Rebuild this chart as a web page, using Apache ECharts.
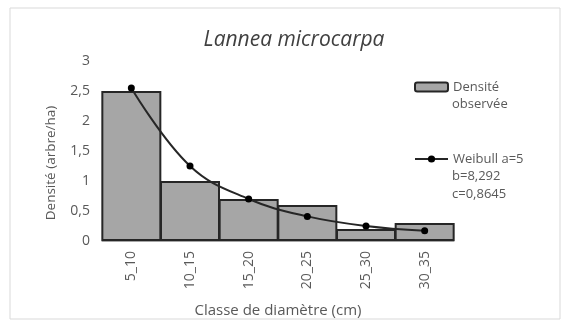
<!DOCTYPE html>
<html>
<head>
<meta charset="utf-8">
<script src="https://cdn.jsdelivr.net/npm/echarts@6/dist/echarts.min.js"></script>
<style>
html,body{margin:0;padding:0;background:#fff;}
#ech1{width:567px;height:322px;}
</style>
</head>
<body>
<div id="ech1"></div>
<script>
// 数据
var classes = ['5_10', '10_15', '15_20', '20_25', '25_30', '30_35'];
var densiteObservee = [2.5, 1.0, 0.7, 0.6, 0.2, 0.3];
var weibull = [2.55, 1.25, 0.7, 0.41, 0.25, 0.17];
var yTicks = [0, 0.5, 1, 1.5, 2, 2.5, 3];

var myChart1 = echarts.init(document.getElementById('ech1'), null, { renderer: 'canvas' });
var fontFam = '"Open Sans", "Liberation Sans", sans-serif';
var txtColor = '#595959';
var nomBarre = 'Densité observée', nomLigne = 'Weibull a=5 b=8,292 c=0,8645';

// 图例文字的后续行
function ligneTexte(txt, y) {
    return {
        type: 'text', left: 452, top: y, silent: true,
        style: { text: txt, fontFamily: fontFam, fontSize: 13, fill: txtColor }
    };
}

var option = {
    backgroundColor: '#fff',
    animation: false,
    textStyle: { fontFamily: fontFam },
    title: {
        text: 'Lannea microcarpa',
        left: 289, top: 25,
        textAlign: 'center',
        textStyle: { fontFamily: fontFam, fontStyle: 'italic', fontWeight: 'normal', fontSize: 21, color: '#404040' }
    },
    graphic: [{
        type: 'rect', shape: { x: 10, y: 8, width: 550, height: 311 },
        style: { fill: 'none', stroke: '#d9d9d9', lineWidth: 1 }, silent: true
    },
        ligneTexte('observée', 98),
        ligneTexte('b=8,292', 170),
        ligneTexte('c=0,8645', 188)
    ],
    legend: [{
        left: 414, top: 78, padding: 0,
        itemWidth: 33, itemHeight: 9,
        textStyle: { fontFamily: fontFam, fontSize: 13, color: txtColor, lineHeight: 18 },
        formatter: function () { return 'Densité'; },
        data: [{ name: nomBarre, icon: 'roundRect' }]
    }, {
        left: 414, top: 150, padding: 0,
        itemWidth: 33, itemHeight: 9,
        textStyle: { fontFamily: fontFam, fontSize: 13, color: txtColor, lineHeight: 18 },
        formatter: function () { return 'Weibull a=5'; },
        data: [{ name: nomLigne }]
    }],
    grid: { left: 102, right: 113, top: 61, bottom: 81, outerBoundsMode: 'none' },
    xAxis: {
        type: 'category',
        data: classes,
        name: 'Classe de diamètre (cm)',
        nameLocation: 'middle',
        nameGap: 62,
        nameTextStyle: { fontFamily: fontFam, fontSize: 15, color: txtColor },
        axisLine: { lineStyle: { color: '#a6a6a6' } },
        axisTick: { show: false },
        axisLabel: { rotate: 90, fontSize: 14, color: txtColor, margin: 10 }
    },
    yAxis: {
        type: 'value',
        min: 0, max: 3, interval: 0.5,
        name: 'Densité (arbre/ha)',
        nameLocation: 'middle',
        nameGap: 44,
        nameTextStyle: { fontFamily: fontFam, fontSize: 13.5, color: txtColor, padding: [0, 24, 0, 0] },
        axisLine: { show: false },
        axisTick: { show: false },
        splitLine: { show: false },
        axisLabel: {
            fontSize: 14, color: txtColor, margin: 12,
            formatter: function (v) { return yTicks.indexOf(v) >= 0 ? String(v).replace('.', ',') : ''; }
        }
    },
    series: [{
        name: nomBarre,
        type: 'bar',
        data: densiteObservee,
        barWidth: 60,
        itemStyle: { color: '#a6a6a6', borderColor: '#262626', borderWidth: 2 }
    }, {
        name: nomLigne,
        type: 'line',
        data: weibull,
        smooth: 0.4,
        symbol: 'circle',
        symbolSize: 7,
        lineStyle: { color: '#262626', width: 2 },
        itemStyle: { color: '#000' }
    }]
};
myChart1.setOption(option);
</script>
</body>
</html>
